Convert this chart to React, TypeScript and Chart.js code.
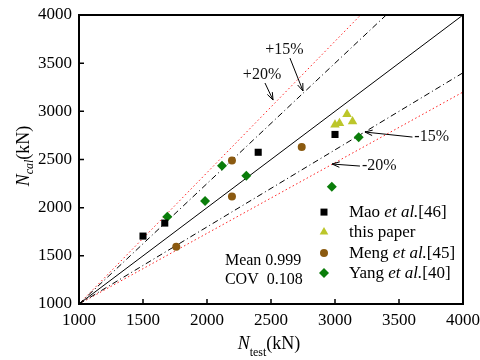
import React, { useEffect, useRef } from "react";
import { Chart, registerables } from "chart.js";

Chart.register(...registerables);

// ---- data ----
const xTicks = [1000, 1500, 2000, 2500, 3000, 3500, 4000];
const yTicks = [1000, 1500, 2000, 2500, 3000, 3500, 4000];

const maoTest = [1500, 1670, 2400, 3000];
const maoCal = [1705, 1840, 2575, 2760];
const paperTest = [3000, 3035, 3094, 3137];
const paperCal = [2860, 2876, 2970, 2894];
const mengTest = [1760, 2195, 2195, 2740];
const mengCal = [1595, 2115, 2490, 2630];
const yangTest = [1690, 1985, 2117, 2307, 2975, 3185];
const yangCal = [1905, 2070, 2435, 2332, 2217, 2730];

const refX = [1000, 4000];
const equalY = [1000, 4000];
const plus15X = [1000, 3400];
const plus20X = [1000, 3200];
const minus15Y = [1000, 3400];
const minus20Y = [1000, 3200];

const legendLabels = ["Mao|et al.|[46]", "this paper", "Meng|et al.|[45]", "Yang|et al.|[40]"];
const statLines = ["Mean 0.999", "COV  0.108"];

// annotation anchors (data coordinates)
const notes = [
  { text: "+15%", tx: 2605, ty: 3637, ax: 2648, ay: 3553, hx: 2750, hy: 3211, align: "center" },
  { text: "+20%", tx: 2430, ty: 3377, ax: 2453, ay: 3294, hx: 2516, hy: 3117, align: "center" },
  { text: "-15%", tx: 3620, ty: 2733, ax: 3605, ay: 2733, hx: 3234, hy: 2785, align: "left" },
  { text: "-20%", tx: 3211, ty: 2432, ax: 3195, ay: 2432, hx: 2977, hy: 2453, align: "left" },
];

const SERIF = '"Liberation Serif", "Times New Roman", serif';

const colors = {
  mao: "#000000",
  paper: "#bcc62a",
  meng: "#8b5a10",
  yang: "#0a7d0a",
};

const pts = (xs: number[], ys: number[]) => xs.map((v, i) => ({ x: v, y: ys[i] }));

function drawMarker(ctx: CanvasRenderingContext2D, kind: string, x: number, y: number, color: string) {
  ctx.fillStyle = color;
  ctx.beginPath();
  if (kind === "rect") {
    ctx.rect(x - 3.5, y - 3.5, 7, 7);
  } else if (kind === "triangle") {
    const r = 5;
    ctx.moveTo(x, y - r);
    ctx.lineTo(x + r * Math.sin((2 * Math.PI) / 3), y + r / 2);
    ctx.lineTo(x - r * Math.sin((2 * Math.PI) / 3), y + r / 2);
    ctx.closePath();
  } else if (kind === "circle") {
    ctx.arc(x, y, 4, 0, Math.PI * 2);
  } else {
    ctx.moveTo(x, y - 5);
    ctx.lineTo(x + 5, y);
    ctx.lineTo(x, y + 5);
    ctx.lineTo(x - 5, y);
    ctx.closePath();
  }
  ctx.fill();
}

const overlay = {
  id: "overlay",
  afterDraw(chart: any) {
    const { ctx, chartArea: a, scales } = chart;
    const sx = scales.x;
    const sy = scales.y;
    ctx.save();

    // frame
    ctx.strokeStyle = "#000";
    ctx.lineWidth = 2;
    ctx.strokeRect(a.left, a.top, a.right - a.left, a.bottom - a.top);

    // inward ticks
    ctx.lineWidth = 1.5;
    ctx.beginPath();
    xTicks.forEach((v) => {
      const px = sx.getPixelForValue(v);
      ctx.moveTo(px, a.bottom);
      ctx.lineTo(px, a.bottom - 5);
    });
    yTicks.forEach((v) => {
      const py = sy.getPixelForValue(v);
      ctx.moveTo(a.left, py);
      ctx.lineTo(a.left + 5, py);
    });
    ctx.stroke();

    // annotations
    ctx.font = `16px ${SERIF}`;
    ctx.fillStyle = "#111";
    ctx.textBaseline = "middle";
    notes.forEach((n) => {
      ctx.textAlign = n.align as CanvasTextAlign;
      ctx.fillText(n.text, sx.getPixelForValue(n.tx), sy.getPixelForValue(n.ty));
      const x0 = sx.getPixelForValue(n.ax), y0 = sy.getPixelForValue(n.ay);
      const x1 = sx.getPixelForValue(n.hx), y1 = sy.getPixelForValue(n.hy);
      ctx.strokeStyle = "#000";
      ctx.lineWidth = 1;
      ctx.beginPath();
      ctx.moveTo(x0, y0);
      ctx.lineTo(x1, y1);
      const ang = Math.atan2(y1 - y0, x1 - x0);
      const L = 8, w = 0.35;
      ctx.moveTo(x1, y1);
      ctx.lineTo(x1 - L * Math.cos(ang - w), y1 - L * Math.sin(ang - w));
      ctx.moveTo(x1, y1);
      ctx.lineTo(x1 - L * Math.cos(ang + w), y1 - L * Math.sin(ang + w));
      ctx.stroke();
    });

    // stats text
    ctx.textAlign = "left";
    ctx.fillStyle = "#000";
    ctx.font = `16px ${SERIF}`;
    ctx.fillText(statLines[0], sx.getPixelForValue(2140), sy.getPixelForValue(1445));
    ctx.fillText(statLines[1], sx.getPixelForValue(2140), sy.getPixelForValue(1248));

    // legend
    const kinds = ["rect", "triangle", "circle", "diamond"];
    const cols = [colors.mao, colors.paper, colors.meng, colors.yang];
    const rowY = [1954, 1747, 1529, 1321];
    const mx = sx.getPixelForValue(2914);
    const tx = sx.getPixelForValue(3109);
    legendLabels.forEach((lab, i) => {
      const py = sy.getPixelForValue(rowY[i]);
      drawMarker(ctx, kinds[i], mx, py, cols[i]);
      const parts = lab.split("|");
      let cx = tx;
      ctx.fillStyle = "#000";
      ctx.textBaseline = "middle";
      parts.forEach((p, j) => {
        const txt = j === 0 && parts.length > 1 ? p + " " : p;
        ctx.font = j === 1 ? `italic 17px ${SERIF}` : `17px ${SERIF}`;
        ctx.fillText(txt, cx, py);
        cx += ctx.measureText(txt).width;
      });
    });

    // x axis title
    ctx.textBaseline = "alphabetic";
    ctx.fillStyle = "#000";
    {
      const base = 349;
      ctx.font = `italic 18px ${SERIF}`;
      const wN = ctx.measureText("N").width;
      ctx.font = `12px ${SERIF}`;
      const wS = ctx.measureText("test").width;
      ctx.font = `18px ${SERIF}`;
      const wU = ctx.measureText("(kN)").width;
      let cx = 269 - (wN + wS + wU) / 2;
      ctx.font = `italic 18px ${SERIF}`;
      ctx.fillText("N", cx, base);
      cx += wN;
      ctx.font = `12px ${SERIF}`;
      ctx.fillText("test", cx, base + 7);
      cx += wS;
      ctx.font = `18px ${SERIF}`;
      ctx.fillText("(kN)", cx, base);
    }

    // y axis title
    {
      ctx.save();
      ctx.translate(29, 156);
      ctx.rotate(-Math.PI / 2);
      ctx.font = `italic 18px ${SERIF}`;
      const wN = ctx.measureText("N").width;
      ctx.font = `italic 12px ${SERIF}`;
      const wS = ctx.measureText("cal").width;
      ctx.font = `18px ${SERIF}`;
      const wU = ctx.measureText("(kN)").width;
      let cx = -(wN + wS + wU) / 2;
      ctx.font = `italic 18px ${SERIF}`;
      ctx.fillText("N", cx, 0);
      cx += wN;
      ctx.font = `italic 12px ${SERIF}`;
      ctx.fillText("cal", cx, 4);
      cx += wS;
      ctx.font = `18px ${SERIF}`;
      ctx.fillText("(kN)", cx, 0);
      ctx.restore();
    }

    ctx.restore();
  },
};

export default function App() {
  const ref = useRef<HTMLCanvasElement | null>(null);

  useEffect(() => {
    document.body.style.margin = "0";
    if (!ref.current) return;
    const lineDs = (data: any[], color: string, dash: number[], order: number) => ({
      type: "scatter" as const,
      data,
      showLine: true,
      borderColor: color,
      borderWidth: 1,
      borderDash: dash,
      pointRadius: 0,
      fill: false,
      order,
    });
    const chart = new Chart(ref.current, {
      type: "scatter",
      data: {
        datasets: [
          { label: "Mao et al.[46]", data: pts(maoTest, maoCal), pointStyle: "rect", pointRadius: 5, backgroundColor: colors.mao, borderColor: colors.mao, borderWidth: 0, order: 1 },
          { label: "this paper", data: pts(paperTest, paperCal), pointStyle: "triangle", pointRadius: 5.5, backgroundColor: colors.paper, borderColor: colors.paper, borderWidth: 0, order: 1 },
          { label: "Meng et al.[45]", data: pts(mengTest, mengCal), pointStyle: "circle", pointRadius: 4, backgroundColor: colors.meng, borderColor: colors.meng, borderWidth: 0, order: 1 },
          { label: "Yang et al.[40]", data: pts(yangTest, yangCal), pointStyle: "rectRot", pointRadius: 5, backgroundColor: colors.yang, borderColor: colors.yang, borderWidth: 0, order: 1 },
          lineDs(pts(refX, equalY), "#000", [], 2),
          lineDs(pts(plus15X, equalY), "#000", [6, 3, 1, 3], 2),
          lineDs(pts(refX, minus15Y), "#000", [6, 3, 1, 3], 2),
          lineDs(pts(plus20X, equalY), "#ff2020", [1.5, 2.5], 2),
          lineDs(pts(refX, minus20Y), "#ff2020", [1.5, 2.5], 2),
        ] as any,
      },
      options: {
        animation: false,
        responsive: false,
        layout: { padding: { left: 0, right: 17, top: 15, bottom: 0 } },
        plugins: { legend: { display: false }, tooltip: { enabled: false } },
        scales: {
          x: {
            type: "linear",
            min: 1000,
            max: 4000,
            afterFit: (s: any) => { s.height = 56; s.paddingLeft = 0; s.paddingRight = 0; },
            afterBuildTicks: (s: any) => { s.ticks = xTicks.map((v) => ({ value: v })); },
            grid: { display: false, drawTicks: false },
            border: { display: false },
            ticks: { color: "#000", padding: 6, font: { family: SERIF, size: 17 }, maxRotation: 0, autoSkip: false, callback: (v: any) => String(v) },
          },
          y: {
            type: "linear",
            min: 1000,
            max: 4000,
            afterFit: (s: any) => { s.width = 79; s.paddingTop = 0; s.paddingBottom = 0; },
            afterBuildTicks: (s: any) => { s.ticks = yTicks.map((v) => ({ value: v })); },
            grid: { display: false, drawTicks: false },
            border: { display: false },
            ticks: { color: "#000", padding: 7, font: { family: SERIF, size: 17 }, autoSkip: false, callback: (v: any) => String(v) },
          },
        },
      },
      plugins: [overlay],
    } as any);
    return () => chart.destroy();
  }, []);

  return (
    <div style={{ width: 480, height: 360 }}>
      <canvas ref={ref} width={480} height={360} />
    </div>
  );
}
